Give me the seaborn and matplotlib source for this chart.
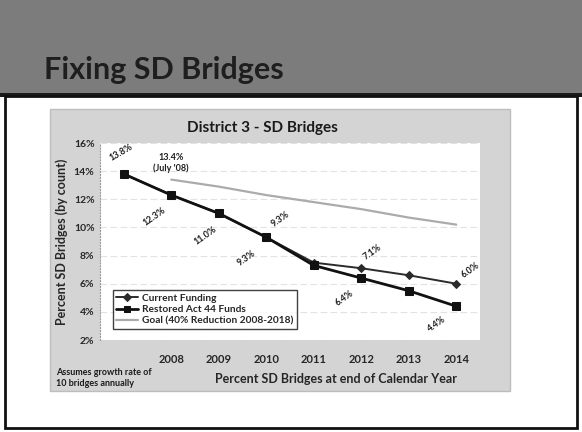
import matplotlib
matplotlib.use("Agg")
import matplotlib.pyplot as plt
import seaborn as sns
import pandas as pd
from matplotlib.patches import Rectangle

# ---- data ----
years = [2007, 2008, 2009, 2010, 2011, 2012, 2013, 2014]
tick_labels = ["", "2008", "2009", "2010", "2011", "2012", "2013", "2014"]
current_funding = [13.8, 12.3, 11.0, 9.3, 7.5, 7.1, 6.6, 6.0]
restored_act44 = [13.8, 12.3, 11.0, 9.3, 7.3, 6.4, 5.5, 4.4]
goal_years = [2008, 2009, 2010, 2011, 2012, 2013, 2014]
goal_values = [13.4, 12.9, 12.3, 11.8, 11.3, 10.7, 10.2]
y_ticks = [2, 4, 6, 8, 10, 12, 14, 16]

sns.set_theme(style="white")
plt.rcParams['font.family'] = ['Lato', 'DejaVu Sans']

W, H = 582, 432
fig = plt.figure(figsize=(W / 100, H / 100), dpi=100)
fig.patch.set_facecolor("white")

def frect(x0, y0, x1, y1, z, **kw):
    # pixel coords (top-left origin) -> figure rectangle
    fig.patches.append(Rectangle((x0 / W, 1 - y1 / H), (x1 - x0) / W, (y1 - y0) / H,
                                 transform=fig.transFigure, figure=fig, zorder=z, **kw))

# header band
frect(0, 0, W, 96, -5, facecolor="#7c7c7c", edgecolor="none")
frect(0, 93, W, 97, -4, facecolor="#1a1a1a", edgecolor="none")
# slide body frame
frect(5, 96, 577, 428, -3, facecolor="white", edgecolor="#111111", linewidth=2)
# chart area
frect(50, 109, 510, 391, -2, facecolor="#d4d4d4", edgecolor="#bdbdbd", linewidth=1)

fig.text(44 / W, 1 - 70 / H, "Fixing SD Bridges", fontsize=22, fontweight="bold",
         color="#1e1e1e", va="center", ha="left")

# plot area
ax = fig.add_axes([100 / W, 1 - 340 / H, 380 / W, 197 / H])
ax.set_zorder(10)
ax.set_facecolor("white")

df_cur = pd.DataFrame({"year": years, "value": current_funding})
df_res = pd.DataFrame({"year": years, "value": restored_act44})
df_goal = pd.DataFrame({"year": goal_years, "value": goal_values})

sns.lineplot(data=df_goal, x="year", y="value", ax=ax, color="#ababab", linewidth=1.6,
             label="Goal (40% Reduction 2008-2018)", zorder=2)
sns.lineplot(data=df_cur, x="year", y="value", ax=ax, color="#2b2b2b", linewidth=1.4,
             marker="D", markersize=4.5, markeredgecolor="#2b2b2b",
             label="Current Funding", zorder=3)
sns.lineplot(data=df_res, x="year", y="value", ax=ax, color="#111111", linewidth=2.0,
             marker="s", markersize=6, markeredgecolor="#111111",
             label="Restored Act 44 Funds", zorder=4)

ax.set_xlim(2006.5, 2014.5)
ax.set_ylim(2, 16)
ax.set_yticks(y_ticks)
ax.set_yticklabels([f"{v}%" for v in y_ticks], fontsize=7.5, fontweight="bold")
ax.set_xticks(years)
ax.set_xticklabels(tick_labels, fontsize=8, fontweight="bold")
ax.tick_params(axis="x", pad=10, length=0)
ax.tick_params(axis="y", pad=4, length=0)
ax.grid(axis="y", color="#e2e2e2", linewidth=0.8, linestyle=(0, (6, 3)))
ax.set_axisbelow(True)
for side in ["top", "right", "bottom"]:
    ax.spines[side].set_visible(False)
ax.spines["left"].set_color("#999999")
ax.spines["left"].set_linestyle(":")
ax.spines["left"].set_linewidth(0.8)
ax.set_xlabel("Percent SD Bridges at end of Calendar Year", fontsize=9, fontweight="bold")
ax.xaxis.set_label_coords(0.62, -0.17)
ax.set_ylabel("Percent SD Bridges (by count)", fontsize=9, fontweight="bold")
ax.yaxis.set_label_coords(-0.085, 0.5)

# legend, reordered
handles, labels = ax.get_legend_handles_labels()
order = [labels.index("Current Funding"), labels.index("Restored Act 44 Funds"),
         labels.index("Goal (40% Reduction 2008-2018)")]
leg = ax.legend([handles[i] for i in order], [labels[i] for i in order],
                loc="lower left", bbox_to_anchor=(108 / W, 1 - 334 / H),
                bbox_transform=fig.transFigure, frameon=True, fancybox=False,
                prop={"size": 7.3, "weight": "bold"}, handlelength=2.2, markerscale=0.8,
                borderpad=0.3, labelspacing=0.25, handletextpad=0.4)
leg.get_frame().set_edgecolor("#111111")
leg.get_frame().set_linewidth(1)

# data labels
lab = dict(fontsize=6.5, fontweight="bold", color="#1e1e1e")
ax.annotate("13.8%", (2007, 13.8), xytext=(-2, 8), textcoords="offset points",
            rotation=30, ha="center", va="bottom", **lab)
ax.annotate("13.4%\n(July '08)", (2008, 13.4), xytext=(0, 5), textcoords="offset points",
            ha="center", va="bottom", linespacing=1.1, **lab)
ax.annotate("12.3%", (2008, 12.3), xytext=(-12, -8), textcoords="offset points",
            rotation=35, ha="center", va="top", **lab)
ax.annotate("11.0%", (2009, 11.0), xytext=(-10, -8), textcoords="offset points",
            rotation=35, ha="center", va="top", **lab)
ax.annotate("9.3%", (2010, 9.3), xytext=(-14, -8), textcoords="offset points",
            rotation=35, ha="center", va="top", **lab)
ax.annotate("9.3%", (2010, 9.3), xytext=(10, 6), textcoords="offset points",
            rotation=35, ha="center", va="bottom", **lab)
ax.annotate("7.1%", (2012, 7.1), xytext=(8, 5), textcoords="offset points",
            rotation=35, ha="center", va="bottom", **lab)
ax.annotate("6.0%", (2014, 6.0), xytext=(10, 3), textcoords="offset points",
            rotation=35, ha="center", va="bottom", **lab)
ax.annotate("6.4%", (2012, 6.4), xytext=(-12, -8), textcoords="offset points",
            rotation=35, ha="center", va="top", **lab)
ax.annotate("4.4%", (2014, 4.4), xytext=(-14, -6), textcoords="offset points",
            rotation=35, ha="center", va="top", **lab)

# chart title and note
fig.text(262 / W, 1 - 128 / H, "District 3 - SD Bridges", fontsize=11, fontweight="bold",
         color="#1a1a1a", ha="center", va="center")
fig.text(56 / W, 1 - 378 / H, "Assumes growth rate of\n10 bridges annually", fontsize=6.5,
         fontweight="bold", color="#1a1a1a", ha="left", va="center", linespacing=1.2)

fig.savefig("out.png", dpi=100)
